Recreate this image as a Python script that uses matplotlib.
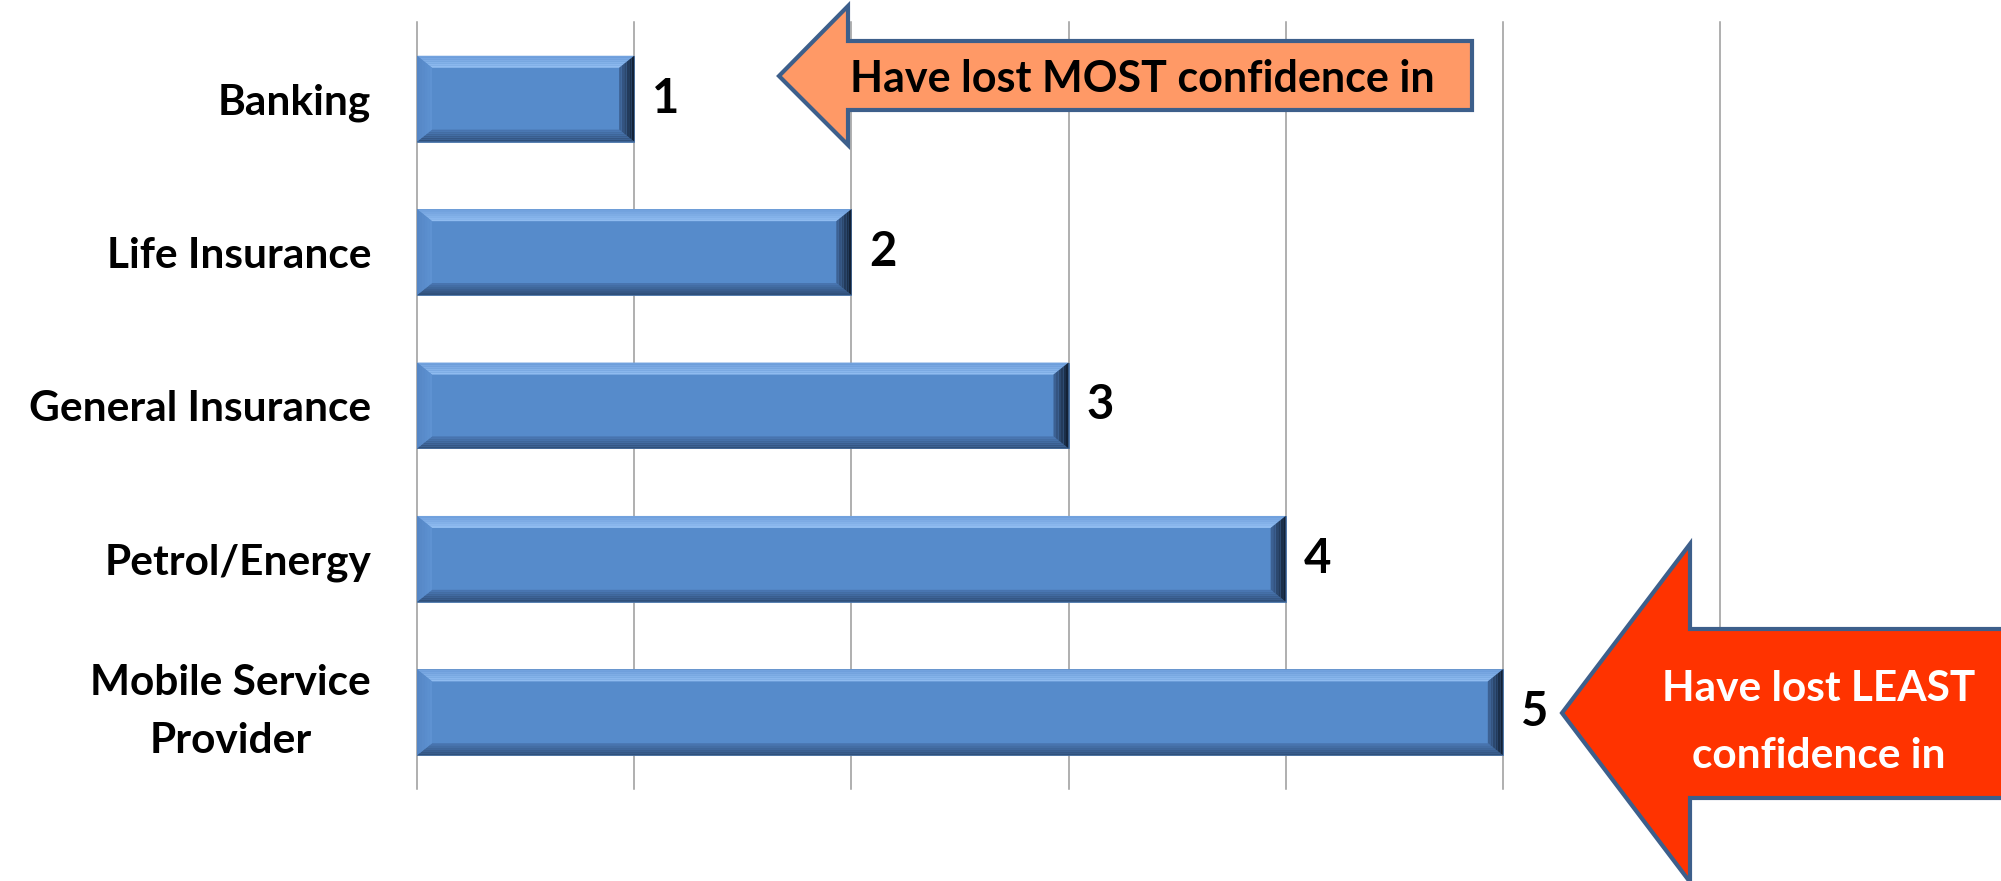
import numpy as np
import matplotlib
matplotlib.use("Agg")
import matplotlib.pyplot as plt
from matplotlib.patches import Polygon
from matplotlib.colors import to_rgb

plt.rcParams['font.family'] = ['Lato', 'DejaVu Sans']
plt.rcParams['font.weight'] = 'bold'

categories = ["Banking", "Life Insurance", "General Insurance", "Petrol/Energy",
              "Mobile Service\nProvider"]
ranks = [1, 2, 3, 4, 5]
xticks = [0, 1, 2, 3, 4, 5, 6]

W, H = 2001, 881
fig = plt.figure(figsize=(W / 100, H / 100), dpi=100)
ax = fig.add_axes([417 / W, 1 - 789 / H, (1720 - 417) / W, (789 - 22) / H])

y = np.arange(len(categories))
bars = ax.barh(y, ranks, height=0.56, color="#568bcb", edgecolor="#4a74a8",
               linewidth=0.6, zorder=3)


def mix(c1, c2, t):
    a, b = np.array(to_rgb(c1)), np.array(to_rgb(c2))
    return tuple(a + (b - a) * t)


# bevel on each bar: light top, dark bottom / right end
dx, dy = 15 / 217, 12 / 153
k = 6
for b in bars:
    x0, y0 = b.get_x(), b.get_y()
    x1, y1 = x0 + b.get_width(), y0 + b.get_height()
    for i in range(k):
        f0, f1 = i / k, (i + 1) / k
        t = (i + 0.5) / k
        # top (visually, axis is inverted)
        ax.add_patch(Polygon([(x0 + dx * f0, y0 + dy * f0), (x1 - dx * f0, y0 + dy * f0),
                              (x1 - dx * f1, y0 + dy * f1), (x0 + dx * f1, y0 + dy * f1)],
                             facecolor=mix("#6f9fdc", "#93bff2", t), edgecolor="none", zorder=4))
        # bottom
        ax.add_patch(Polygon([(x0 + dx * f0, y1 - dy * f0), (x1 - dx * f0, y1 - dy * f0),
                              (x1 - dx * f1, y1 - dy * f1), (x0 + dx * f1, y1 - dy * f1)],
                             facecolor=mix("#2e4c75", "#4a78b4", t), edgecolor="none", zorder=4))
        # left
        ax.add_patch(Polygon([(x0 + dx * f0, y0 + dy * f0), (x0 + dx * f1, y0 + dy * f1),
                              (x0 + dx * f1, y1 - dy * f1), (x0 + dx * f0, y1 - dy * f0)],
                             facecolor=mix("#5485c4", "#5f93d3", t), edgecolor="none", zorder=4))
        # right
        ax.add_patch(Polygon([(x1 - dx * f0, y0 + dy * f0), (x1 - dx * f1, y0 + dy * f1),
                              (x1 - dx * f1, y1 - dy * f1), (x1 - dx * f0, y1 - dy * f0)],
                             facecolor=mix("#0f1c2e", "#40679c", t), edgecolor="none", zorder=4))

ax.bar_label(bars, labels=[str(r) for r in ranks], padding=13, fontsize=34,
             fontweight='bold', color="black")

ax.set_xlim(0, 6)
ax.set_ylim(len(categories) - 0.5, -0.5)
ax.set_xticks(xticks)
ax.set_xticklabels([])
ax.set_yticks(y)
ax.set_yticklabels(categories, fontsize=30.5, fontweight='bold',
                   multialignment='center', linespacing=1.65)
for lab in ax.get_yticklabels():
    if "\n" in lab.get_text():
        lab.set_verticalalignment('center')
ax.tick_params(axis='y', length=0, pad=33)
ax.tick_params(axis='x', length=0)
ax.grid(axis='x', color="#9a9a9a", linewidth=1.1, zorder=0)
for gl in ax.get_xgridlines():
    gl.set_clip_on(False)
for s in ax.spines.values():
    s.set_visible(False)


def px(pts):
    return [(px_x / W, 1 - px_y / H) for px_x, px_y in pts]


# "most" arrow
orange = [(779, 76), (848, 6), (848, 41), (1472, 41), (1472, 110), (848, 110), (848, 145)]
fig.patches.append(Polygon(px(orange), closed=True, facecolor="#ff9966", edgecolor="#3d5f8b",
                           linewidth=3, joinstyle='miter', transform=fig.transFigure, zorder=5))
fig.text(1142 / W, 1 - 92 / H, "Have lost MOST confidence in", ha='center', va='baseline',
         fontsize=31, fontweight='bold', color="black", zorder=6)

# "least" arrow
red = [(1562, 713), (1690, 544), (1690, 629), (2030, 629), (2030, 798), (1690, 798), (1690, 882)]
fig.patches.append(Polygon(px(red), closed=True, facecolor="#ff3300", edgecolor="#3d5f8b",
                           linewidth=3, joinstyle='miter', transform=fig.transFigure, zorder=5))
fig.text(1819 / W, 1 - 701 / H, "Have lost LEAST", ha='center', va='baseline',
         fontsize=30.5, fontweight='bold', color="white", zorder=6)
fig.text(1819 / W, 1 - 768 / H, "confidence in", ha='center', va='baseline',
         fontsize=30.5, fontweight='bold', color="white", zorder=6)

fig.savefig("out.png", dpi=100, facecolor="white")
